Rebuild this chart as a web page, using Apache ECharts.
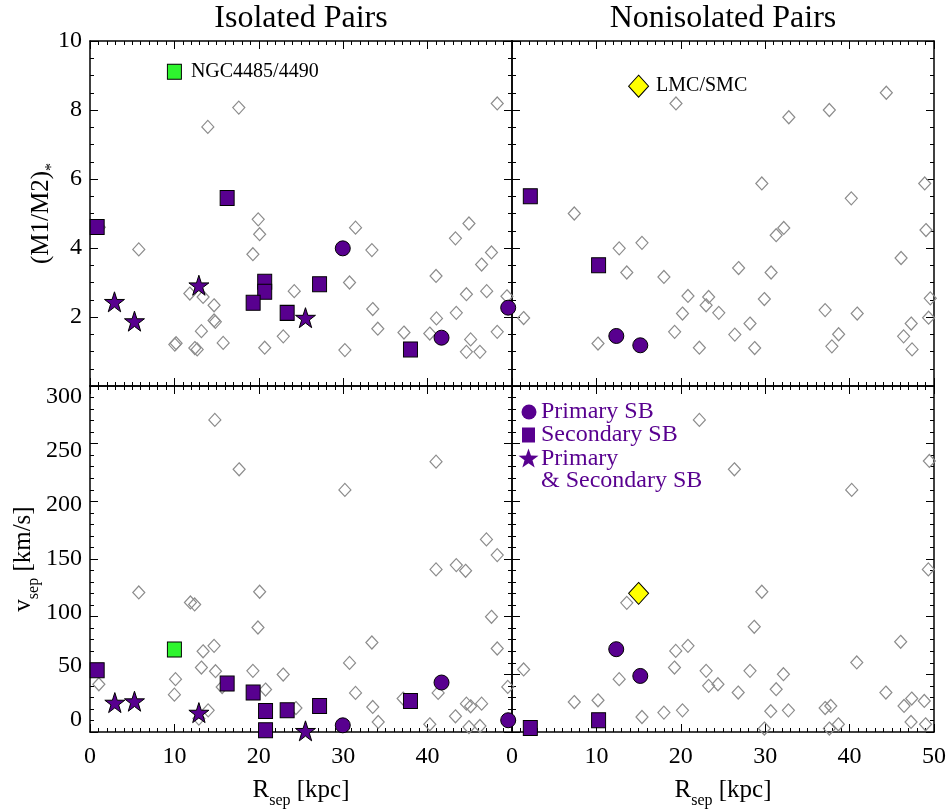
<!DOCTYPE html>
<html>
<head>
<meta charset="utf-8">
<title>Isolated / Nonisolated Pairs</title>
<script src="https://cdn.jsdelivr.net/npm/echarts@6/dist/echarts.min.js"></script>
<style>
  html, body { margin: 0; padding: 0; background: #fff; }
  #chart { width: 948px; height: 810px; }
</style>
</head>
<body>
<div id="chart"></div>
<script>
// ---- data: [R_sep (kpc), value] ----
// isolated pairs, (M1/M2)*
const isoRatioOther = [
  [1.1, 4.6], [5.78, 3.96], [17.63, 8.07], [13.96, 7.51], [19.93, 4.83], [20.1, 4.40], [19.3, 3.82],
  [24.2, 2.75], [11.83, 2.68], [13.4, 2.58], [14.7, 2.34], [14.7, 1.90], [14.85, 1.86], [13.2, 1.59],
  [10.05, 1.20], [10.2, 1.24], [12.42, 1.10], [12.7, 1.06], [15.78, 1.25], [20.7, 1.11], [22.9, 1.44],
  [31.46, 4.59], [33.4, 3.94], [30.75, 3.0], [33.5, 2.23], [34.1, 1.66], [30.2, 1.04], [37.2, 1.55],
  [40.26, 1.52], [41.05, 1.96], [41.0, 3.19], [43.3, 4.28], [44.9, 4.71], [43.4, 2.12], [44.6, 2.66],
  [45.1, 1.35], [44.6, 0.99], [46.2, 0.99], [46.4, 3.52], [47.57, 3.87], [47.0, 2.75], [48.25, 1.57],
  [48.25, 8.19], [49.4, 2.6]
];
const isoRatioPrimary = [[29.95, 3.99], [41.65, 1.40], [49.55, 2.27]];
const isoRatioSecondary = [[0.85, 4.61], [16.25, 5.45], [20.7, 3.02], [20.7, 2.73], [19.33, 2.41], [23.36, 2.12], [27.2, 2.95], [37.97, 1.06]];
const isoRatioBoth = [[2.9, 2.44], [5.27, 1.88], [12.9, 2.92], [25.53, 1.98]];
const isoRatioNGC = [[10.0, 9.11]];

// isolated pairs, v_sep (km/s)
const isoVelOther = [
  [1.05, 41.4], [5.78, 121], [14.79, 270.6], [17.67, 227.8], [11.9, 112.3], [12.4, 110.6], [20.1, 121.6],
  [19.9, 90.6], [13.4, 70], [14.7, 74.7], [13.2, 55.9], [14.87, 52.7], [10.13, 45.8], [10.0, 32.4],
  [15.66, 39], [19.3, 53], [20.8, 36.8], [22.89, 49.8], [24.4, 20.8], [14.0, 18.8], [12.9, 11.6],
  [30.2, 209.9], [33.4, 77.6], [30.75, 59.9], [31.46, 33.9], [33.5, 21.7], [34.15, 8.7], [37.1, 29],
  [40.26, 6.7], [41.0, 234.4], [41.0, 141], [41.25, 33.9], [43.4, 144.7], [44.5, 139.8], [43.3, 13.6],
  [44.6, 24.6], [45.1, 22.3], [46.4, 24.6], [44.9, 4.3], [46.2, 5.2], [46.97, 167], [48.25, 153.4],
  [47.57, 99.9], [48.25, 72.4], [49.5, 39.1]
];
const isoVelPrimary = [[29.95, 5.8], [41.65, 42.9], [49.55, 10.2]];
const isoVelSecondary = [[0.85, 53.6], [16.25, 42], [19.33, 34.2], [20.8, 18.3], [20.8, 1.5], [23.36, 18.8], [27.2, 22.6], [37.97, 26.9]];
const isoVelBoth = [[2.94, 25.5], [5.27, 26.7], [12.9, 16.8], [25.53, 1.0]];
const isoVelNGC = [[10.0, 71.5]];

// nonisolated pairs, (M1/M2)*
const nonRatioOther = [
  [1.38, 1.97], [7.38, 5.0], [10.19, 1.23], [12.7, 3.99], [15.4, 4.15], [13.6, 3.29], [18.0, 3.16],
  [19.43, 8.19], [20.85, 2.61], [20.2, 2.1], [19.27, 1.57], [22.2, 1.11], [23.3, 2.58], [23.0, 2.34],
  [24.5, 2.12], [26.4, 1.49], [28.2, 1.81], [28.75, 1.10], [26.85, 3.42], [29.9, 2.52], [30.7, 3.29],
  [29.6, 5.87], [31.3, 4.37], [32.2, 4.58], [32.8, 7.79], [37.6, 8.0], [37.1, 2.2], [38.7, 1.5],
  [37.9, 1.15], [40.9, 2.1], [40.2, 5.44], [44.35, 8.5], [46.1, 3.71], [46.4, 1.44], [47.3, 1.81],
  [47.4, 1.06], [48.9, 5.87], [49.05, 4.52], [49.56, 2.54], [49.36, 1.98]
];
const nonRatioPrimary = [[12.36, 1.45], [15.2, 1.18]];
const nonRatioSecondary = [[2.17, 5.50], [10.26, 3.50]];
const nonRatioLMC = [[15.0, 8.69]];

// nonisolated pairs, v_sep (km/s)
const nonVelOther = [
  [1.38, 54.2], [7.38, 26], [10.19, 27.5], [12.7, 45.8], [13.6, 112], [15.4, 13], [18.0, 16.8],
  [20.2, 18.8], [19.4, 70.3], [20.85, 74.7], [19.25, 55.9], [22.2, 270.6], [23.0, 53], [23.3, 40],
  [24.4, 41.4], [26.35, 227.8], [26.8, 34.2], [28.2, 53], [28.7, 91.2], [29.6, 121.6], [29.9, 3],
  [30.66, 18], [31.3, 37.1], [32.16, 50.1], [32.75, 18.8], [37.1, 20.8], [37.77, 22.6], [37.6, 3],
  [38.67, 6.7], [40.25, 209.9], [40.85, 60.3], [44.3, 34.2], [46.05, 78.2], [46.45, 22.6], [47.36, 29],
  [48.85, 26.9], [47.28, 8.7], [49.0, 6.7], [49.45, 235], [49.33, 141]
];
const nonVelPrimary = [[12.35, 71.8], [15.2, 48.6]];
const nonVelSecondary = [[2.17, 3.5], [10.26, 10.2]];
const nonVelLMC = [[15.0, 120.2]];

// axes / ticks
const rRange = [0, 50];
const ratioRange = [0, 10];
const velRange = [0, 300];
const velTickLabels = [0, 50, 100, 150, 200, 250, 300];
const legendLabels = ['Primary SB', 'Secondary SB', 'Primary', '& Secondary SB'];
const panelTitles = ['Isolated Pairs', 'Nonisolated Pairs'];

// ---- styling ----
const FONT = 'Liberation Serif';
const PURPLE = '#58008f';
const GRAY = '#8c8c8c';
const STAR = 'path://M50,0L61.8,35.4L99,35.4L68.9,57.3L80.4,92.7L50,70.8L19.6,92.7L31.1,57.3L1,35.4L38.2,35.4Z';

const grids = [
  { left: 90, top: 41, width: 422, height: 345 },
  { left: 512, top: 41, width: 422, height: 345 },
  { left: 90, top: 386, width: 422, height: 346 },
  { left: 512, top: 386, width: 422, height: 346 }
].map(g => Object.assign({ outerBoundsMode: 'none', containLabel: false }, g));

const labelStyle = { fontFamily: FONT, fontSize: 24, color: '#000' };
const subRich = {
  m: { fontFamily: FONT, fontSize: 25, lineHeight: 26, verticalAlign: 'top', color: '#000' },
  s: { fontFamily: FONT, fontSize: 16, lineHeight: 17, verticalAlign: 'top', padding: [15, 0, 0, 0], color: '#000' }
};

function frameAxis(gridIndex, position, range, interval, minorSplit, extra) {
  return Object.assign({
    type: 'value',
    gridIndex,
    position,
    min: range[0],
    max: range[1],
    interval,
    axisLine: { show: true, onZero: false, lineStyle: { color: '#000', width: 1.5 } },
    axisTick: { show: true, inside: true, length: 8, lineStyle: { color: '#000', width: 1 } },
    minorTick: { show: true, splitNumber: minorSplit, length: 4, lineStyle: { color: '#000', width: 1 } },
    splitLine: { show: false },
    minorSplitLine: { show: false },
    axisLabel: { show: false }
  }, extra || {});
}

const xName = {
  name: '{m|R}{s|sep}{m| [kpc]}',
  nameLocation: 'middle',
  nameGap: 46,
  nameMoveOverlap: false,
  nameTextStyle: { rich: subRich }
};

const xAxes = [];
const yAxes = [];
for (let gi = 0; gi < 4; gi++) {
  const bottomRow = gi >= 2;
  const leftCol = gi % 2 === 0;
  const yRange = bottomRow ? velRange : ratioRange;
  const yInt = bottomRow ? 50 : 2;
  const yMinor = bottomRow ? 5 : 4;

  xAxes.push(frameAxis(gi, 'bottom', rRange, 10, 10, bottomRow ? Object.assign({
    axisLabel: Object.assign({ show: true, margin: 13, showMaxLabel: !leftCol }, labelStyle)
  }, xName) : {}));
  xAxes.push(frameAxis(gi, 'top', rRange, 10, 10));

  let leftExtra = {};
  if (gi === 0) {
    leftExtra = {
      axisLabel: Object.assign({ show: true, margin: 8, showMinLabel: false }, labelStyle),
      name: '{m|(M1/M2)}{s|*}',
      nameLocation: 'middle',
      nameGap: 35,
      nameMoveOverlap: false,
      nameTextStyle: { rich: subRich }
    };
  } else if (gi === 2) {
    leftExtra = {
      name: '{m|v}{s|sep}{m| [km/s]}',
      nameLocation: 'middle',
      nameGap: 53,
      nameMoveOverlap: false,
      nameTextStyle: { rich: subRich }
    };
  }
  yAxes.push(frameAxis(gi, 'left', yRange, yInt, yMinor, leftExtra));
  yAxes.push(frameAxis(gi, 'right', yRange, yInt, yMinor));
}
// tick labels of the velocity axis sit slightly inside the frame in the original
yAxes.push({
  type: 'value',
  gridIndex: 2,
  position: 'left',
  offset: 0,
  min: -11.15,
  max: 310.2,
  axisLine: { show: false, onZero: false },
  axisTick: { show: false },
  splitLine: { show: false },
  axisLabel: Object.assign({ show: true, margin: 8, customValues: velTickLabels }, labelStyle)
});

function scatter(name, gi, data, symbol, size, itemStyle, extra) {
  return Object.assign({
    type: 'scatter',
    name,
    xAxisIndex: gi * 2,
    yAxisIndex: gi * 2,
    data,
    symbol,
    symbolSize: size,
    itemStyle: Object.assign({ opacity: 1 }, itemStyle),
    silent: true,
    animation: false
  }, extra || {});
}

const otherStyle = { color: 'rgba(255,255,255,0)', borderColor: GRAY, borderWidth: 1.2 };
const sbStyle = { color: PURPLE, borderColor: '#000', borderWidth: 1 };
const ngcStyle = { color: '#2ef52e', borderColor: '#000', borderWidth: 1 };
const lmcStyle = { color: '#ffff00', borderColor: '#000', borderWidth: 1 };
const markLabel = { show: true, position: 'right', fontFamily: FONT, fontSize: 20, color: '#000', opacity: 1 };

const series = [
  scatter('Other', 0, isoRatioOther, 'diamond', [12, 13], otherStyle),
  scatter('Other', 1, nonRatioOther, 'diamond', [12, 13], otherStyle),
  scatter('Other', 2, isoVelOther, 'diamond', [12, 13], otherStyle),
  scatter('Other', 3, nonVelOther, 'diamond', [12, 13], otherStyle),

  scatter('Secondary SB', 0, isoRatioSecondary, 'rect', [14, 15], sbStyle),
  scatter('Secondary SB', 1, nonRatioSecondary, 'rect', [14, 15], sbStyle),
  scatter('Secondary SB', 2, isoVelSecondary, 'rect', [14, 15], sbStyle),
  scatter('Secondary SB', 3, nonVelSecondary, 'rect', [14, 15], sbStyle),

  scatter('Primary SB', 0, isoRatioPrimary, 'circle', 15, sbStyle),
  scatter('Primary SB', 1, nonRatioPrimary, 'circle', 15, sbStyle),
  scatter('Primary SB', 2, isoVelPrimary, 'circle', 15, sbStyle),
  scatter('Primary SB', 3, nonVelPrimary, 'circle', 15, sbStyle),

  scatter('Primary & Secondary SB', 0, isoRatioBoth, STAR, [20, 20], sbStyle),
  scatter('Primary & Secondary SB', 2, isoVelBoth, STAR, [20, 20], sbStyle),

  scatter('NGC4485/4490', 0, isoRatioNGC, 'rect', [14, 15], ngcStyle, {
    label: Object.assign({ distance: 9, formatter: 'NGC4485/4490' }, markLabel)
  }),
  scatter('NGC4485/4490', 2, isoVelNGC, 'rect', [14, 15], ngcStyle),
  scatter('LMC/SMC', 1, nonRatioLMC, 'diamond', [20, 22], lmcStyle, {
    label: Object.assign({ distance: 7, formatter: 'LMC/SMC' }, markLabel)
  }),
  scatter('LMC/SMC', 3, nonVelLMC, 'diamond', [20, 22], lmcStyle)
];

// legend drawn in the lower right panel, as in the original figure
function starPoints(cx, cy, r) {
  const pts = [];
  for (let i = 0; i < 10; i++) {
    const a = -Math.PI / 2 + i * Math.PI / 5;
    const rr = i % 2 ? r * 0.4 : r;
    pts.push([cx + rr * Math.cos(a), cy + rr * Math.sin(a)]);
  }
  return pts;
}
const legendText = { fontFamily: FONT, fontSize: 24, fill: PURPLE, verticalAlign: 'middle' };
const legendRows = [412, 435, 459, 481];
const graphic = [
  { type: 'text', x: 301, y: 19, style: { text: panelTitles[0], fontFamily: FONT, fontSize: 32, fill: '#000', align: 'center', verticalAlign: 'middle' } },
  { type: 'text', x: 723, y: 19, style: { text: panelTitles[1], fontFamily: FONT, fontSize: 32, fill: '#000', align: 'center', verticalAlign: 'middle' } },
  { type: 'circle', shape: { cx: 529, cy: legendRows[0], r: 7.5 }, style: { fill: PURPLE } },
  { type: 'rect', shape: { x: 522, y: legendRows[1] - 7.5, width: 13, height: 15 }, style: { fill: PURPLE } },
  { type: 'polygon', shape: { points: starPoints(528.5, legendRows[2], 10.5) }, style: { fill: PURPLE } }
].concat(legendLabels.map((t, i) => ({
  type: 'text', x: 541, y: legendRows[i], style: Object.assign({ text: t }, legendText)
})));

const chart = echarts.init(document.getElementById('chart'), null, { renderer: 'canvas' });
chart.setOption({
  backgroundColor: '#fff',
  animation: false,
  grid: grids,
  xAxis: xAxes,
  yAxis: yAxes,
  graphic,
  series
});
</script>
</body>
</html>
